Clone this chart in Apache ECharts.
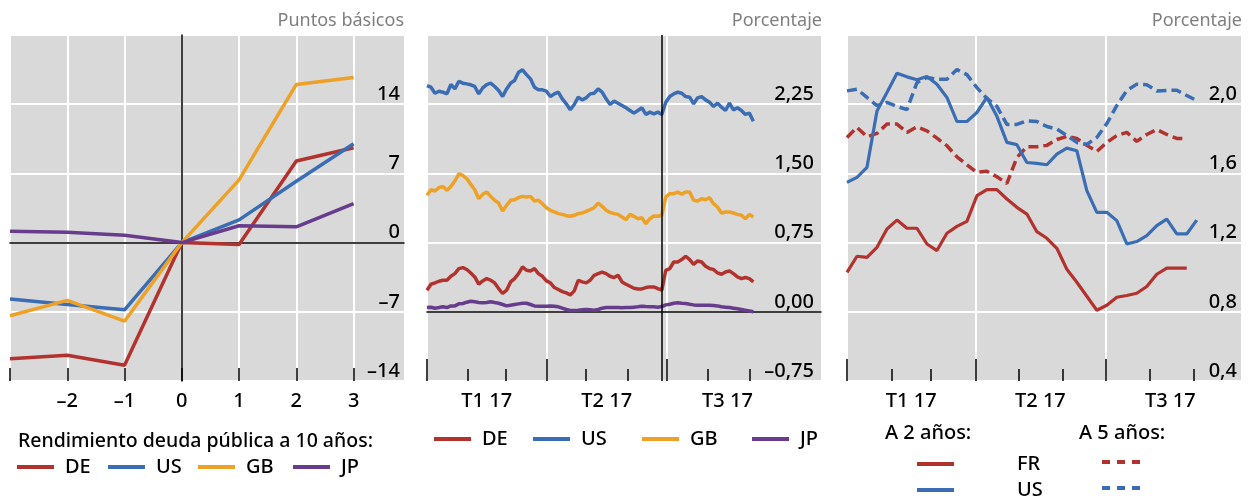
<!DOCTYPE html>
<html>
<head>
<meta charset="utf-8">
<script src="https://cdn.jsdelivr.net/npm/echarts@6/dist/echarts.min.js"></script>
<style>
  html, body { margin: 0; padding: 0; background: #fff; }
  #main { width: 1254px; height: 497px; }
</style>
</head>
<body>
<div id="main"></div>
<script>
// ---- panel 1: variación rendimiento 10 años (días respecto al evento)
const eventDays = [-3, -2, -1, 0, 1, 2, 3];
const de10 = [-11.75, -11.4, -12.4, 0, -0.2, 8.25, 9.6];
const us10 = [-5.7, -6.25, -6.8, 0, 2.3, 6.2, 10.0];
const gb10 = [-7.4, -5.85, -7.95, 0, 6.35, 16.0, 16.7];
const jp10 = [1.15, 1.05, 0.75, 0, 1.7, 1.6, 3.95];

// ---- panel 2: rendimientos diarios 2017 (días desde 1 ene, cada 3 días)
const dailyDays = [0, 3, 6, 9, 12, 15, 18, 21, 24, 27, 30, 33, 36, 39, 42, 45, 48, 51, 54, 57,
  60, 63, 66, 69, 72, 75, 78, 81, 84, 87, 90, 93, 96, 99, 102, 105, 108, 111, 114, 117,
  120, 123, 126, 129, 132, 135, 138, 141, 144, 147, 150, 153, 156, 159, 162, 165, 168, 171, 174, 177,
  180, 183, 186, 189, 192, 195, 198, 201, 204, 207, 210, 213, 216, 219, 222, 225, 228, 231, 234, 237,
  240, 243, 246];
const usDaily = [2.452, 2.434, 2.369, 2.391, 2.380, 2.362, 2.463, 2.416, 2.499, 2.478, 2.470, 2.460, 2.442, 2.362, 2.427, 2.463, 2.478, 2.442, 2.398, 2.333,
  2.416, 2.478, 2.507, 2.597, 2.622, 2.571, 2.525, 2.434, 2.406, 2.406, 2.391, 2.333, 2.362, 2.380, 2.308, 2.254, 2.189, 2.247, 2.326, 2.297,
  2.319, 2.362, 2.369, 2.416, 2.380, 2.308, 2.247, 2.283, 2.261, 2.236, 2.211, 2.182, 2.153, 2.182, 2.211, 2.139, 2.164, 2.146, 2.164, 2.139,
  2.272, 2.333, 2.362, 2.380, 2.369, 2.333, 2.326, 2.254, 2.319, 2.333, 2.297, 2.272, 2.225, 2.261, 2.218, 2.182, 2.261, 2.189, 2.211, 2.182,
  2.139, 2.153, 2.066];
const gbDaily = [1.262, 1.323, 1.309, 1.345, 1.359, 1.316, 1.359, 1.417, 1.496, 1.478, 1.442, 1.381, 1.323, 1.226, 1.273, 1.298, 1.251, 1.208, 1.179, 1.092,
  1.154, 1.208, 1.215, 1.237, 1.251, 1.244, 1.251, 1.201, 1.208, 1.172, 1.128, 1.100, 1.082, 1.064, 1.056, 1.042, 1.035, 1.046, 1.064, 1.071,
  1.089, 1.107, 1.128, 1.179, 1.143, 1.100, 1.078, 1.064, 1.056, 1.028, 0.999, 1.056, 1.035, 1.009, 1.020, 0.955, 1.009, 1.038, 1.035, 1.046,
  1.244, 1.280, 1.280, 1.298, 1.273, 1.298, 1.298, 1.208, 1.201, 1.226, 1.215, 1.237, 1.172, 1.136, 1.071, 1.082, 1.082, 1.071, 1.056, 1.046,
  1.009, 1.056, 1.028];
const deDaily = [0.234, 0.299, 0.313, 0.331, 0.342, 0.342, 0.385, 0.414, 0.468, 0.479, 0.458, 0.421, 0.378, 0.299, 0.335, 0.360, 0.342, 0.313, 0.252, 0.198,
  0.234, 0.324, 0.360, 0.414, 0.486, 0.450, 0.443, 0.468, 0.414, 0.385, 0.335, 0.313, 0.263, 0.241, 0.219, 0.205, 0.183, 0.227, 0.342, 0.324,
  0.313, 0.342, 0.396, 0.414, 0.429, 0.414, 0.385, 0.371, 0.396, 0.324, 0.299, 0.277, 0.255, 0.248, 0.248, 0.263, 0.270, 0.270, 0.252, 0.234,
  0.450, 0.468, 0.540, 0.540, 0.566, 0.602, 0.566, 0.515, 0.551, 0.540, 0.494, 0.468, 0.458, 0.421, 0.407, 0.432, 0.443, 0.414, 0.378, 0.360,
  0.371, 0.360, 0.324];
const jpDaily = [0.046, 0.050, 0.039, 0.046, 0.054, 0.046, 0.064, 0.064, 0.086, 0.090, 0.104, 0.115, 0.108, 0.100, 0.097, 0.100, 0.108, 0.100, 0.093, 0.079,
  0.064, 0.072, 0.079, 0.086, 0.093, 0.093, 0.079, 0.064, 0.061, 0.061, 0.061, 0.064, 0.061, 0.054, 0.039, 0.025, 0.014, 0.014, 0.017, 0.021,
  0.025, 0.021, 0.017, 0.025, 0.039, 0.046, 0.046, 0.046, 0.046, 0.043, 0.046, 0.046, 0.050, 0.054, 0.061, 0.057, 0.054, 0.054, 0.050, 0.057,
  0.075, 0.082, 0.093, 0.097, 0.093, 0.090, 0.082, 0.075, 0.072, 0.072, 0.072, 0.072, 0.068, 0.064, 0.054, 0.050, 0.046, 0.039, 0.032, 0.025,
  0.017, 0.010, 0.000];
const eventDay = 177; // 27 jun

// ---- panel 3: datos semanales FR / US a 2 y 5 años
const weekDays = [0, 7, 14, 21, 28, 35, 42, 49, 56, 63, 70, 77, 84, 91, 98, 105, 112, 119,
  126, 133, 140, 147, 154, 161, 168, 175, 182, 189, 196, 203, 210, 217, 224, 231, 238, 245];
const fr2 = [1.028, 1.121, 1.115, 1.173, 1.279, 1.330, 1.283, 1.283, 1.192, 1.154, 1.254, 1.294, 1.323, 1.471, 1.506, 1.506, 1.452, 1.404,
  1.365, 1.263, 1.225, 1.167, 1.046, 0.971, 0.890, 0.809, 0.838, 0.884, 0.894, 0.907, 0.946, 1.017, 1.053, 1.053, 1.053];
const us2 = [1.548, 1.577, 1.635, 1.960, 2.068, 2.179, 2.158, 2.141, 2.160, 2.115, 2.039, 1.900, 1.900, 1.952, 2.039, 1.930, 1.779, 1.766,
  1.663, 1.658, 1.650, 1.711, 1.746, 1.731, 1.500, 1.375, 1.375, 1.327, 1.192, 1.206, 1.240, 1.298, 1.336, 1.250, 1.250, 1.330];
const fr5 = [1.808, 1.866, 1.812, 1.831, 1.885, 1.885, 1.837, 1.870, 1.846, 1.804, 1.760, 1.696, 1.650, 1.606, 1.612, 1.581, 1.542, 1.692,
  1.754, 1.754, 1.762, 1.796, 1.814, 1.802, 1.762, 1.727, 1.779, 1.819, 1.837, 1.785, 1.825, 1.854, 1.825, 1.802, 1.802];
const us5 = [2.077, 2.087, 2.039, 1.992, 2.010, 1.987, 1.969, 2.125, 2.154, 2.144, 2.144, 2.200, 2.171, 2.096, 2.033, 1.987, 1.883, 1.883,
  1.904, 1.900, 1.871, 1.856, 1.819, 1.779, 1.767, 1.808, 1.888, 1.992, 2.079, 2.116, 2.112, 2.077, 2.079, 2.081, 2.050, 2.021];

// ---- ejes
const p1Ticks = [-3, -2, -1, 0, 1, 2, 3];
const p1Labels = [-2, -1, 0, 1, 2, 3];
const monthStarts = [0, 31, 59, 90, 120, 151, 181, 212, 243];
const quarterStarts = [0, 90, 181];
const quarterMids = [45, 135.5, 226.5];
const quarterLabels = ['T1 17', 'T2 17', 'T3 17'];

const FONT = 'Noto Sans';
const WEIGHT = 500;
const COL = { DE: '#b2322e', US: '#3a6db4', GB: '#eda126', JP: '#683c8c' };
const BG = '#d9d9d9';

const pairs = (xs, ys) => ys.map((v, i) => [xs[i], v]);
const minus = s => s.replace('-', '\u2013');
const dec = n => v => minus(v.toFixed(n).replace('.', ','));

function yAxis(grid, min, max, interval, fmt, margin) {
  return {
    gridIndex: grid, type: 'value', position: 'right', min: min, max: max, interval: interval,
    axisLine: { show: false, onZero: false }, axisTick: { show: false },
    splitLine: { show: true, lineStyle: { color: '#fff', width: 2 } },
    axisLabel: {
      inside: true, margin: margin, showMaxLabel: false, verticalAlign: 'bottom',
      formatter: fmt, color: '#000', fontSize: 20, fontFamily: FONT, fontWeight: WEIGHT
    }
  };
}
function zeroX(grid, min, max) {
  return {
    gridIndex: grid, type: 'value', min: min, max: max, position: 'bottom',
    axisLine: { show: true, onZero: true, lineStyle: { color: '#000', width: 1.5 } },
    axisTick: { show: false }, axisLabel: { show: false }, splitLine: { show: false }
  };
}
function timeAxes(grid, max) {
  return [{
    gridIndex: grid, type: 'value', min: 0, max: max, position: 'bottom',
    axisLine: { show: false, onZero: false },
    axisTick: { show: true, inside: true, length: 12, customValues: monthStarts, lineStyle: { color: '#000', width: 1.5 } },
    splitLine: { show: false },
    axisLabel: {
      customValues: quarterMids, margin: 10, color: '#000', fontSize: 20, fontFamily: FONT, fontWeight: WEIGHT,
      formatter: v => quarterLabels[quarterMids.indexOf(v)]
    }
  }, {
    gridIndex: grid, type: 'value', min: 0, max: max, position: 'bottom',
    axisLine: { show: false, onZero: false },
    axisTick: { show: true, inside: true, length: 22, customValues: quarterStarts, lineStyle: { color: '#000', width: 1.5 } },
    splitLine: { show: true, lineStyle: { color: '#fff', width: 2 } },
    axisLabel: { show: false }
  }];
}
function line(name, xi, yi, data, color, width, dash) {
  return {
    name: name, type: 'line', xAxisIndex: xi, yAxisIndex: yi, data: data,
    showSymbol: false, symbol: 'none', color: color, z: 3,
    lineStyle: { color: color, width: width, type: dash || 'solid', cap: 'butt' }
  };
}

const legendBase = {
  icon: 'rect', itemWidth: 37, itemHeight: 4, padding: 0, selectedMode: false,
  textStyle: { fontSize: 20, color: '#000', fontFamily: FONT, fontWeight: WEIGHT, padding: [0, 0, 0, 6] }
};
const legendPos = [
  ['DE', 17, 457], ['US', 108, 457], ['GB', 198, 457], ['JP', 293, 457],
  ['DE', 434, 429], ['US', 533, 429], ['GB', 642, 429], ['JP', 752, 429]
];
const gfont = WEIGHT + ' 20px "Noto Sans"';
const unitStyle = { fontSize: 18, color: '#7f7f7f', fontWeight: 'normal', fontFamily: FONT };

const chart = echarts.init(document.getElementById('main'));
const option = {
  animation: false,
  backgroundColor: '#fff',
  textStyle: { fontFamily: FONT },
  title: [
    { text: 'Puntos básicos', right: 850, top: 12, padding: 0, textStyle: unitStyle },
    { text: 'Porcentaje', right: 432, top: 12, padding: 0, textStyle: unitStyle },
    { text: 'Porcentaje', right: 12, top: 12, padding: 0, textStyle: unitStyle },
    { text: 'Rendimiento deuda pública a 10 años:', left: 18, top: 431, padding: 0,
      textStyle: { fontSize: 19.5, color: '#000', fontWeight: WEIGHT, fontFamily: FONT } }
  ],
  legend: legendPos.map(p => Object.assign({}, legendBase, { data: [p[0]], left: p[1], top: p[2] })),
  grid: [
    { left: 10, top: 35, width: 394, height: 346, show: true, backgroundColor: BG, borderWidth: 0 },
    { left: 427, top: 35, width: 394, height: 346, show: true, backgroundColor: BG, borderWidth: 0 },
    { left: 847, top: 35, width: 394, height: 346, show: true, backgroundColor: BG, borderWidth: 0 }
  ],
  xAxis: [
    {
      gridIndex: 0, type: 'value', min: -3, max: 3.88, position: 'bottom',
      axisLine: { show: false, onZero: false },
      axisTick: { show: true, inside: true, length: 13, customValues: p1Ticks, lineStyle: { color: '#000', width: 1.5 } },
      splitLine: { show: true, lineStyle: { color: '#fff', width: 2 } },
      axisLabel: { customValues: p1Labels, margin: 10, color: '#000', fontSize: 20, fontFamily: FONT, fontWeight: WEIGHT, formatter: v => minus(String(v)) }
    },
    zeroX(0, -3, 3.88),
    ...timeAxes(1, 297),
    zeroX(1, 0, 297),
    ...timeAxes(2, 276)
  ],
  yAxis: [
    yAxis(0, -14, 21, 7, v => minus(String(v)), 4),
    {
      gridIndex: 0, type: 'value', min: -14, max: 21, position: 'left',
      axisLine: { show: true, onZero: true, lineStyle: { color: '#000', width: 1.5 } },
      axisTick: { show: false }, axisLabel: { show: false }, splitLine: { show: false }
    },
    yAxis(1, -0.75, 3, 0.75, dec(2), 7),
    yAxis(2, 0.4, 2.4, 0.4, dec(1), 4)
  ],
  series: [
    line('DE', 0, 0, pairs(eventDays, de10), COL.DE, 3.5),
    line('US', 0, 0, pairs(eventDays, us10), COL.US, 3.5),
    line('GB', 0, 0, pairs(eventDays, gb10), COL.GB, 3.5),
    line('JP', 0, 0, pairs(eventDays, jp10), COL.JP, 3.5),
    {
      name: 'evento', type: 'line', xAxisIndex: 2, yAxisIndex: 2, data: [], z: 1,
      markLine: {
        silent: true, symbol: 'none', label: { show: false },
        lineStyle: { color: '#000', width: 1.5, type: 'solid' },
        data: [{ xAxis: eventDay }]
      }
    },
    line('DE', 2, 2, pairs(dailyDays, deDaily), COL.DE, 3.5),
    line('US', 2, 2, pairs(dailyDays, usDaily), COL.US, 3.5),
    line('GB', 2, 2, pairs(dailyDays, gbDaily), COL.GB, 3.5),
    line('JP', 2, 2, pairs(dailyDays, jpDaily), COL.JP, 3.5),
    line('FR 5a', 5, 3, pairs(weekDays, fr5), COL.DE, 3.5, [10, 5]),
    line('US 5a', 5, 3, pairs(weekDays, us5), COL.US, 3.5, [10, 5]),
    line('FR 2a', 5, 3, pairs(weekDays, fr2), COL.DE, 3.2),
    line('US 2a', 5, 3, pairs(weekDays, us2), COL.US, 3.2)
  ],
  graphic: [
    { type: 'text', x: 885, y: 433, style: { text: 'A 2 años:', fill: '#000', font: gfont, verticalAlign: 'middle' } },
    { type: 'text', x: 1079, y: 433, style: { text: 'A 5 años:', fill: '#000', font: gfont, verticalAlign: 'middle' } },
    { type: 'text', x: 1017, y: 464, style: { text: 'FR', fill: '#000', font: gfont, verticalAlign: 'middle' } },
    { type: 'text', x: 1017, y: 490, style: { text: 'US', fill: '#000', font: gfont, verticalAlign: 'middle' } },
    { type: 'line', shape: { x1: 917, y1: 464, x2: 954, y2: 464 }, style: { stroke: COL.DE, lineWidth: 4 } },
    { type: 'line', shape: { x1: 917, y1: 490, x2: 954, y2: 490 }, style: { stroke: COL.US, lineWidth: 4 } },
    { type: 'line', shape: { x1: 1102, y1: 462, x2: 1140, y2: 462 }, style: { stroke: COL.DE, lineWidth: 4, lineDash: [8, 7] } },
    { type: 'line', shape: { x1: 1102, y1: 488, x2: 1140, y2: 488 }, style: { stroke: COL.US, lineWidth: 4, lineDash: [8, 7] } }
  ]
};
chart.setOption(option);
</script>
</body>
</html>
